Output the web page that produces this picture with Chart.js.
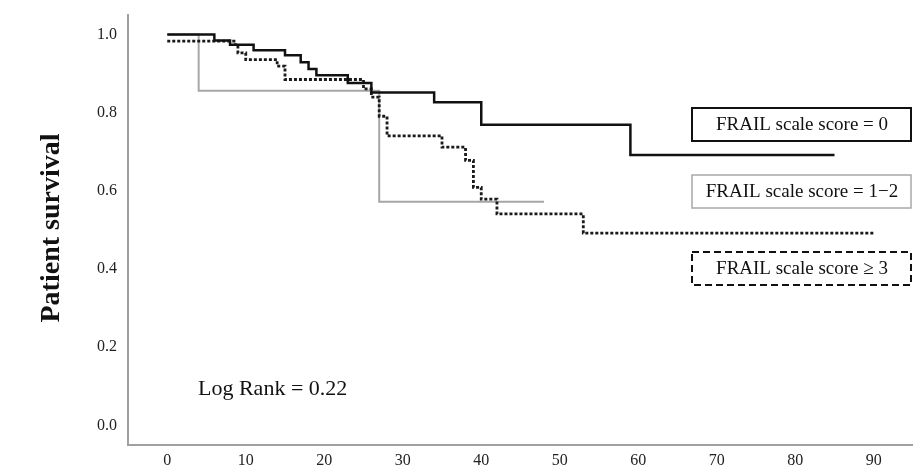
<!DOCTYPE html>
<html>
<head>
<meta charset="utf-8">
<script src="https://cdn.jsdelivr.net/npm/chart.js@4.4.1/dist/chart.umd.min.js"></script>
<style>
  html, body { margin: 0; padding: 0; background: #fff; }
  #wrap { width: 913px; height: 468px; position: relative; }
</style>
</head>
<body>
<div id="wrap"><canvas id="km"></canvas></div>
<script>
// tick labels
var xTicks = [0, 10, 20, 30, 40, 50, 60, 70, 80, 90];
var yTicks = [0, 0.2, 0.4, 0.6, 0.8, 1.0];

// FRAIL = 0
var frail0Time = [0, 6, 8, 11, 15, 17, 18, 19, 23, 26, 34, 40, 59, 85];
var frail0Surv = [1.0, 0.985, 0.974, 0.96, 0.947, 0.929, 0.912, 0.896, 0.876, 0.852, 0.827, 0.769, 0.692, 0.692];

// FRAIL = 1-2
var frail12Time = [0, 4, 27, 48];
var frail12Surv = [1.0, 0.856, 0.572, 0.572];

// FRAIL >= 3
var frail3Time = [0, 8.5, 9, 10, 14, 15, 25, 26, 27, 28, 35, 38, 39, 40, 42, 53, 90];
var frail3Surv = [0.983, 0.974, 0.953, 0.936, 0.919, 0.885, 0.861, 0.840, 0.791, 0.741, 0.712, 0.678, 0.609, 0.579, 0.541, 0.492, 0.492];

var legendLabels = ['FRAIL scale score = 0', 'FRAIL scale score = 1\u22122', 'FRAIL scale score \u2265 3'];
var yTitle = 'Patient survival';
var statText = 'Log Rank = 0.22';

var serif = '"Liberation Serif", "Times New Roman", serif';

function toPoints(t, s) {
    return t.map(function (v, i) { return { x: v, y: s[i] }; });
}

// 文字與圖例框
var overlay = {
    id: 'overlay',
    afterDraw: function (chart) {
        var ctx = chart.ctx;
        ctx.save();

        // y title
        ctx.translate(52, 228);
        ctx.rotate(-Math.PI / 2);
        ctx.fillStyle = '#111';
        ctx.font = 'bold 28px ' + serif;
        ctx.textAlign = 'center';
        ctx.textBaseline = 'middle';
        ctx.fillText(yTitle, 0, 0);
        ctx.setTransform(1, 0, 0, 1, 0, 0);

        // log rank
        ctx.font = '22px ' + serif;
        ctx.textAlign = 'left';
        ctx.textBaseline = 'alphabetic';
        ctx.fillText(statText, 198, 395);

        // legend boxes
        var boxes = [
            { y: 108, color: '#111', width: 2, dash: [] },
            { y: 175, color: '#a8a8a8', width: 1.5, dash: [] },
            { y: 252, color: '#111', width: 2, dash: [7, 4] }
        ];
        ctx.font = '19px ' + serif;
        ctx.textAlign = 'center';
        ctx.textBaseline = 'middle';
        boxes.forEach(function (b, i) {
            ctx.strokeStyle = b.color;
            ctx.lineWidth = b.width;
            ctx.setLineDash(b.dash);
            ctx.strokeRect(692, b.y, 219, 33);
            ctx.fillStyle = '#111';
            ctx.fillText(legendLabels[i], 802, b.y + 17);
        });
        ctx.restore();
    }
};

var ctx = document.getElementById('km').getContext('2d');

var myChart = new Chart(ctx, {
    type: 'line',
    data: {
        datasets: [{
            label: legendLabels[0],
            data: toPoints(frail0Time, frail0Surv),
            borderColor: '#111',
            borderWidth: 2.5,
            stepped: 'before',
            pointRadius: 0,
            fill: false
        }, {
            label: legendLabels[2],
            data: toPoints(frail3Time, frail3Surv),
            borderColor: '#1a1a1a',
            borderWidth: 2.8,
            borderDash: [3, 2],
            stepped: 'before',
            pointRadius: 0,
            fill: false
        }, {
            label: legendLabels[1],
            data: toPoints(frail12Time, frail12Surv),
            borderColor: '#a6a6a6',
            borderWidth: 2,
            stepped: 'before',
            pointRadius: 0,
            fill: false
        }]
    },
    options: {
        responsive: true,
        maintainAspectRatio: false,
        animation: false,
        layout: { padding: { top: 15, right: 0, bottom: 0, left: 0 } },
        plugins: {
            legend: { display: false },
            tooltip: { enabled: false }
        },
        scales: {
            x: {
                type: 'linear',
                min: -5,
                max: 95,
                afterFit: function (s) {
                    s.height = 23;
                    s.paddingLeft = 0;
                    s.paddingRight = 0;
                },
                afterBuildTicks: function (s) { s.ticks = xTicks.map(function (v) { return { value: v }; }); },
                grid: { display: false, drawTicks: false },
                border: { display: true, color: '#a0a0a0', width: 2 },
                ticks: {
                    padding: 6,
                    maxRotation: 0,
                    autoSkip: false,
                    color: '#222',
                    font: { family: serif, size: 16 }
                }
            },
            y: {
                type: 'linear',
                min: -0.05,
                max: 1.05,
                afterFit: function (s) {
                    s.width = 128;
                    s.paddingTop = 0;
                    s.paddingBottom = 0;
                },
                afterBuildTicks: function (s) { s.ticks = yTicks.map(function (v) { return { value: v }; }); },
                grid: { display: false, drawTicks: false },
                border: { display: true, color: '#a0a0a0', width: 2 },
                ticks: {
                    padding: 11,
                    color: '#222',
                    font: { family: serif, size: 16 },
                    callback: function (v) { return v.toFixed(1); }
                }
            }
        }
    },
    plugins: [overlay]
});
</script>
</body>
</html>
